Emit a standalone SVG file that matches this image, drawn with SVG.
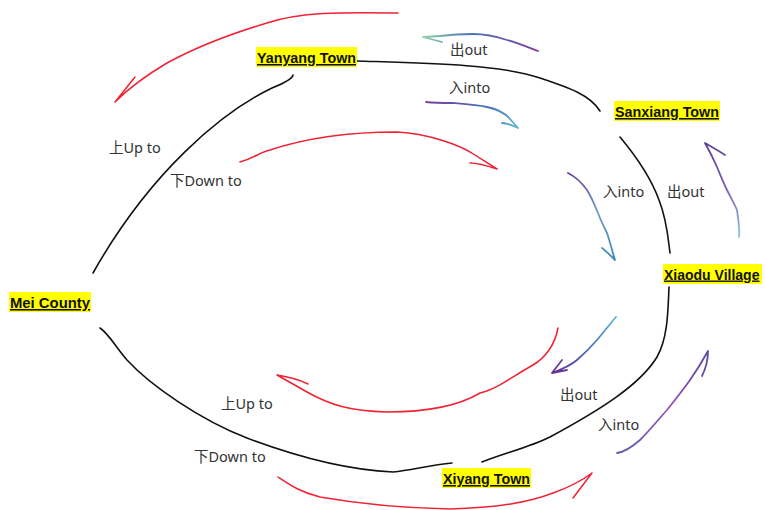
<svg xmlns="http://www.w3.org/2000/svg" width="765" height="510" viewBox="0 0 765 510">
<style>
.bg{fill:#ffffff}
.hl{fill:#ffff00}
.node{font-family:"Liberation Sans","Noto Sans",sans-serif;font-weight:bold;font-size:15.5px;fill:#111;text-decoration:underline}
.lbl{font-family:"Noto Sans","Noto Sans CJK SC",sans-serif;font-size:14.5px;fill:#333}
.edge{fill:none;stroke:#111;stroke-width:1.6;stroke-linecap:round;stroke-linejoin:round}
.red{fill:none;stroke:#ee2233;stroke-width:1.5;stroke-linecap:round;stroke-linejoin:round}
.pen{fill:none;stroke-width:1.8;stroke-linecap:round;stroke-linejoin:round}
</style>
<defs>
<linearGradient id="gE" gradientUnits="userSpaceOnUse" x1="538" y1="51" x2="423" y2="37"><stop offset="0" stop-color="#7d3fa0"/><stop offset="0.6" stop-color="#4a73b8"/><stop offset="1" stop-color="#8fd3a8"/></linearGradient>
<linearGradient id="gF" gradientUnits="userSpaceOnUse" x1="426" y1="102" x2="518" y2="128"><stop offset="0" stop-color="#7a3fa0"/><stop offset="0.6" stop-color="#4b6cb8"/><stop offset="1" stop-color="#5fb4d0"/></linearGradient>
<linearGradient id="gG" gradientUnits="userSpaceOnUse" x1="568" y1="173" x2="615" y2="260"><stop offset="0" stop-color="#6b3f9e"/><stop offset="0.5" stop-color="#6e9cc8"/><stop offset="1" stop-color="#3d8ab8"/></linearGradient>
<linearGradient id="gH" gradientUnits="userSpaceOnUse" x1="739" y1="237" x2="705" y2="143"><stop offset="0" stop-color="#8cc4e0"/><stop offset="0.5" stop-color="#7a5fb0"/><stop offset="1" stop-color="#5a3f98"/></linearGradient>
<linearGradient id="gI" gradientUnits="userSpaceOnUse" x1="616" y1="317" x2="552" y2="373"><stop offset="0" stop-color="#5fb4d8"/><stop offset="0.5" stop-color="#4a6cb0"/><stop offset="1" stop-color="#6a2f98"/></linearGradient>
<linearGradient id="gJ" gradientUnits="userSpaceOnUse" x1="617" y1="453" x2="708" y2="351"><stop offset="0" stop-color="#5a5cb0"/><stop offset="0.5" stop-color="#9a4fb8"/><stop offset="1" stop-color="#5a4aa0"/></linearGradient>
</defs>
<rect class="bg" x="0" y="0" width="765" height="510"/>

<g id="connectors">
  <path class="edge" d="M293,75 Q292,80 272,88 C222,112 150,172 93,273"/>
  <path class="edge" d="M357,61 C420,63 500,64 540,78 C570,88 590,95 600,111"/>
  <path class="edge" d="M620,137 C635,155 650,175 659,200 C667,220 668,238 670,253"/>
  <path class="edge" d="M669,287 C668,310 668,338 657,357 C640,385 600,410 550,437 C530,447 505,453 482,462"/>
  <path class="edge" d="M100,328 C109,334 114,345 127,360 C150,385 200,420 247,438 C300,458 350,470 393,472 C412,470 430,465 452,463"/>

  <path class="red" d="M398,13 C340,12 300,12 267,23 C240,31 200,45 167,63 C145,76 125,92 115,102 L135,77"/>
  <path class="red" d="M240,162 C255,158 260,152 270,150 C300,140 340,132 397,132 C430,134 460,145 475,155 L497,169 C488,166 478,163 470,163"/>
  <path class="red" d="M558,328 C555,345 545,358 533,365 C510,378 495,390 480,393 C460,405 430,412 387,412 C350,411 330,405 307,392 L277,375 C290,377 300,380 308,384"/>
  <path class="red" d="M278,477 C290,485 300,492 320,497 C360,504 400,508 450,509 C500,508 530,502 553,493 C570,487 580,482 592,473 L573,498"/>

  <path class="pen" stroke="url(#gE)" d="M538,51 C525,46 515,42 507,40 C495,36 485,34 473,34 C460,34 448,35 440,36 L423,37 L442,42"/>
  <path class="pen" stroke="url(#gF)" d="M426,102 C435,103 445,103 453,103 C465,104 478,105 487,107 C497,109 505,113 510,119 L518,128 C512,125 507,123 502,123"/>
  <path class="pen" stroke="url(#gG)" d="M568,173 C576,177 582,183 587,190 C592,198 595,206 598,213 C601,221 604,227 607,233 C610,242 612,250 615,260 C610,255 606,251 602,248"/>
  <path class="pen" stroke="url(#gH)" d="M739,237 C740,228 738,218 737,210 C734,203 730,196 727,190 C723,182 720,174 717,167 C713,158 709,150 705,143 C712,147 719,151 725,155"/>
  <path class="pen" stroke="url(#gI)" d="M616,317 C610,324 603,333 597,340 C590,348 584,354 577,360 C570,366 560,370 552,373 L562,360 M552,373 L567,370"/>
  <path class="pen" stroke="url(#gJ)" d="M617,453 C625,452 632,447 640,440 C650,430 658,420 667,410 C675,400 683,390 690,380 C697,370 703,360 708,351 C708,360 706,368 702,376"/>
</g>

<g id="yanyang">
  <rect class="hl" x="256" y="47" width="101" height="20"/>
  <text class="node" x="257" y="63" textLength="99" lengthAdjust="spacingAndGlyphs">Yanyang Town</text>
</g>
<g id="sanxiang">
  <rect class="hl" x="614" y="101" width="106" height="20"/>
  <text class="node" x="615" y="117" textLength="104" lengthAdjust="spacingAndGlyphs">Sanxiang Town</text>
</g>
<g id="xiaodu">
  <rect class="hl" x="663" y="264" width="99" height="20"/>
  <text class="node" x="664" y="279.5" style="font-size:14px">Xiaodu Village</text>
</g>
<g id="mei">
  <rect class="hl" x="9" y="292" width="82" height="20"/>
  <text class="node" x="10" y="308" textLength="80" lengthAdjust="spacingAndGlyphs">Mei County</text>
</g>
<g id="xiyang">
  <rect class="hl" x="442" y="468" width="89" height="20"/>
  <text class="node" x="443" y="484" textLength="87" lengthAdjust="spacingAndGlyphs">Xiyang Town</text>
</g>

<g id="labels">
  <text class="lbl" x="450" y="55">出out</text>
  <text class="lbl" x="449" y="93">入into</text>
  <text class="lbl" x="603" y="197">入into</text>
  <text class="lbl" x="667" y="197">出out</text>
  <text class="lbl" x="560" y="400">出out</text>
  <text class="lbl" x="598" y="430">入into</text>
  <text class="lbl" x="109" y="153">上Up to</text>
  <text class="lbl" x="170" y="186">下Down to</text>
  <text class="lbl" x="221" y="409">上Up to</text>
  <text class="lbl" x="194" y="462">下Down to</text>
</g>
</svg>
